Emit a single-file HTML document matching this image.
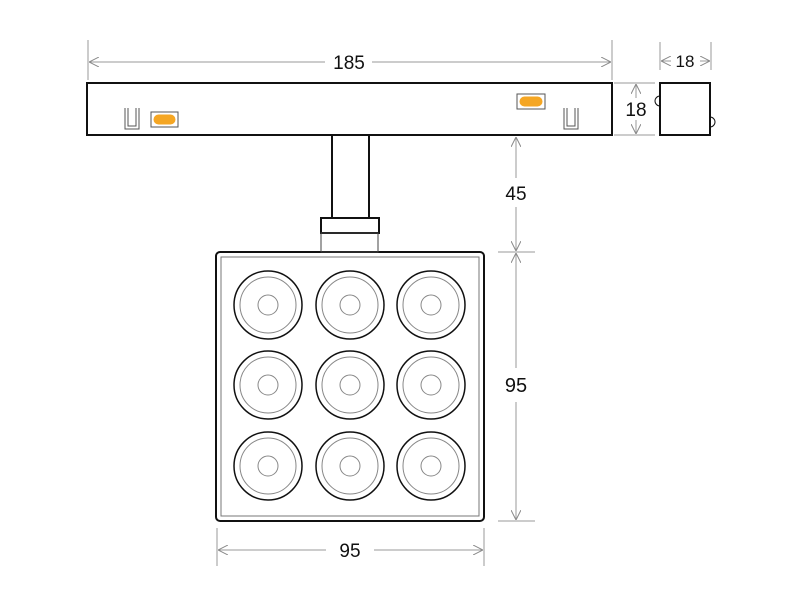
<!DOCTYPE html>
<html><head><style>body{margin:0;background:#fff}svg{display:block}</style></head><body>
<svg width="800" height="600" viewBox="0 0 800 600" xmlns="http://www.w3.org/2000/svg" font-family="Liberation Sans, sans-serif">
<defs>
<marker id="a" viewBox="0 0 10 10" refX="10" refY="5" markerWidth="10" markerHeight="10" orient="auto-start-reverse" markerUnits="userSpaceOnUse"><path d="M0,0 L10,5 L0,10" fill="none" stroke="#888" stroke-width="1"/></marker>
</defs>
<g stroke="#999" stroke-width="1" fill="none">
<line x1="88" y1="40" x2="88" y2="80"/><line x1="612" y1="40" x2="612" y2="80"/>
<line x1="89" y1="62" x2="325" y2="62" marker-start="url(#a)"/><line x1="372" y1="62" x2="611" y2="62" marker-end="url(#a)"/>
<line x1="660" y1="42" x2="660" y2="70"/><line x1="711" y1="42" x2="711" y2="70"/>
<line x1="661" y1="61" x2="671" y2="61" marker-start="url(#a)"/><line x1="700" y1="61" x2="710" y2="61" marker-end="url(#a)"/>
<line x1="614" y1="83" x2="655" y2="83"/><line x1="614" y1="135" x2="655" y2="135"/>
<line x1="636" y1="84" x2="636" y2="98" marker-start="url(#a)"/><line x1="636" y1="120" x2="636" y2="134" marker-end="url(#a)"/>
<line x1="516" y1="137" x2="516" y2="178" marker-start="url(#a)"/><line x1="516" y1="207" x2="516" y2="251" marker-end="url(#a)"/>
<line x1="498" y1="252" x2="535" y2="252"/><line x1="498" y1="521" x2="535" y2="521"/>
<line x1="516" y1="253" x2="516" y2="368" marker-start="url(#a)"/><line x1="516" y1="402" x2="516" y2="520" marker-end="url(#a)"/>
<line x1="217" y1="528" x2="217" y2="566"/><line x1="484" y1="528" x2="484" y2="566"/>
<line x1="218" y1="550" x2="326" y2="550" marker-start="url(#a)"/><line x1="374" y1="550" x2="483" y2="550" marker-end="url(#a)"/>
</g>
<g font-size="19" fill="#111" text-anchor="middle">
<text x="349" y="69">185</text><text x="685" y="67" font-size="17">18</text><text x="636" y="116">18</text>
<text x="516" y="200">45</text><text x="516" y="392" font-size="20">95</text><text x="350" y="557">95</text>
</g>
<g stroke="#111" stroke-width="2" fill="#fff">
<rect x="87" y="83" width="525" height="52"/>
<rect x="332" y="135" width="37" height="83"/>
<rect x="321" y="218" width="58" height="15"/>
<rect x="660" y="83" width="50" height="52"/>
<rect x="216" y="252" width="268" height="269" rx="4"/>
</g>
<g stroke="#111" stroke-width="1" fill="none">
<path d="M660,96 A4,4 0 0 0 660,106"/><path d="M710,117 A4,4 0 0 1 710,127"/>
</g>
<rect x="321" y="233" width="57" height="19" fill="none" stroke="#444" stroke-width="1"/>
<rect x="221" y="257" width="258" height="259" fill="none" stroke="#777" stroke-width="1"/>
<g stroke="#555" stroke-width="1" fill="none">
<path d="M125,108 V129 H139 V108 M128,108 V126 H136 V108"/>
<path d="M564,108 V129 H578 V108 M567,108 V126 H575 V108"/>
<rect x="151" y="112" width="27" height="15"/><rect x="517" y="94" width="28" height="15"/>
</g>
<rect x="153.5" y="114.5" width="22" height="10" rx="5" fill="#f5a623"/>
<rect x="519.5" y="96.5" width="23" height="10" rx="5" fill="#f5a623"/>
<g fill="none">
<g id="c">
<circle cx="268" cy="305" r="34" stroke="#111" stroke-width="1.5"/>
<circle cx="268" cy="305" r="28" stroke="#888" stroke-width="1"/>
<circle cx="268" cy="305" r="10" stroke="#888" stroke-width="1"/>
</g>
<use href="#c" x="82"/><use href="#c" x="163"/>
<use href="#c" y="80"/><use href="#c" x="82" y="80"/><use href="#c" x="163" y="80"/>
<use href="#c" y="161"/><use href="#c" x="82" y="161"/><use href="#c" x="163" y="161"/>
</g>
</svg>
</body></html>
